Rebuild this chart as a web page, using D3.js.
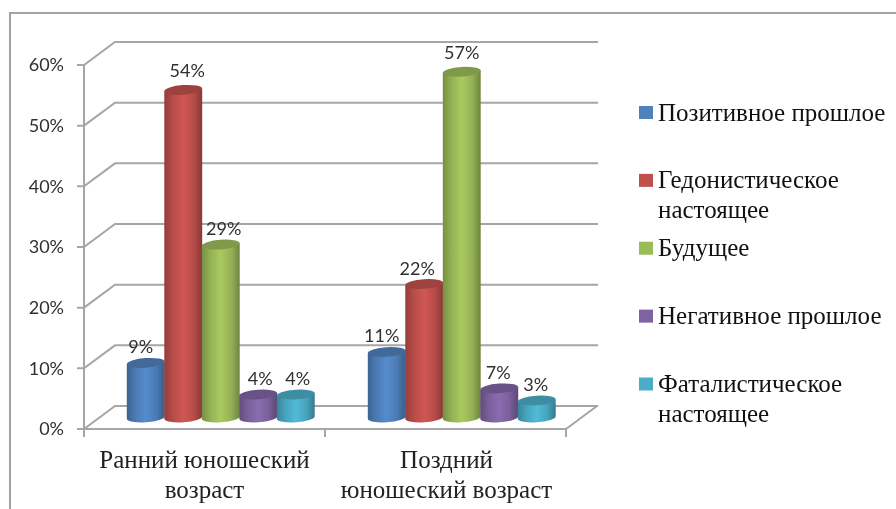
<!DOCTYPE html>
<html><head><meta charset="utf-8">
<script src="https://cdn.jsdelivr.net/npm/d3@7/dist/d3.min.js"></script>
<style>html,body{margin:0;padding:0;background:#fff;overflow:hidden}svg{display:block;filter:blur(0.4px)}</style>
</head><body><div id="chart"></div>
<script>
const categories = [["Ранний юношеский","возраст"],["Поздний","юношеский возраст"]];
const seriesNames = [["Позитивное прошлое"],["Гедонистическое","настоящее"],["Будущее"],["Негативное прошлое"],["Фаталистическое","настоящее"]];
const seriesColors = ["#4f81bd","#c0504d","#9bbb59","#8064a2","#4bacc6"];
const earlyValues = [9,54,28.5,3.8,3.8];
const lateValues = [10.8,22,57,4.8,2.8];
const earlyLabels = ["9%","54%","29%","4%","4%"];
const lateLabels = ["11%","22%","57%","7%","3%"];
const yTicks = [0,10,20,30,40,50,60];

const W=896,H=509;
const svg=d3.select("#chart").append("svg").attr("width",W).attr("height",H);
const defs=svg.append("defs");
seriesColors.forEach((c,i)=>{
  const g=defs.append("linearGradient").attr("id","g"+i);
  const base=d3.color(c);
  [[0,base.darker(.75)],[.22,base.darker(.15)],[.5,base.brighter(.22)],[.78,base.darker(.15)],[1,base.darker(.95)]]
   .forEach(([o,col])=>g.append("stop").attr("offset",o).attr("stop-color",col));
});
const depth={x:31,y:-23};
const x0=d3.scaleBand().domain(d3.range(categories.length)).range([84,566]);
const y=d3.scaleLinear().domain([0,60]).range([429,65]);
const inner=d3.scaleBand().domain(d3.range(seriesNames.length)).range([43,230.5]);
const grid="#a6a6a6";
// frame
svg.append("path").attr("d",`M10,${H} V13 H${W}`).attr("fill","none").attr("stroke","#a3a3a3").attr("stroke-width",2);
// walls
const axes=svg.append("g").attr("fill","none").attr("stroke",grid).attr("stroke-width",2);
yTicks.forEach(t=>{
  const yy=y(t);
  axes.append("path").attr("d",`M77,${yy} H84 L${84+depth.x},${yy+depth.y} H${566+depth.x+1}`);
});
axes.append("path").attr("d",`M84,${y(60)} V${y(0)}`);
axes.append("path").attr("d",`M84,${y(0)} H566 L${566+depth.x},${y(0)+depth.y}`);
[84,325,566].forEach(px=>axes.append("path").attr("d",`M${px},${y(0)} V${y(0)+8}`));
// y labels
svg.append("g").selectAll("text").data(yTicks).join("text")
 .attr("x",64).attr("y",d=>y(d)).attr("dy","0.36em").attr("text-anchor","end")
 .attr("font-family","Lato").attr("font-size",18).attr("fill","#303030").text(d=>d+"%");
// bars
const baseOffset=11.5, tilt=-4, ry=4.8;
const data=[earlyValues,lateValues];
const labels=[earlyLabels,lateLabels];
const labelShift=[[[-5,0],[4,-3],[3,0],[2,0],[2,0]],[[-5,0],[-7,0],[0,-3],[-1,0],[-1,0]]];
const barsG=svg.append("g");
data.forEach((vals,gi)=>{
  vals.forEach((v,si)=>{
    const bw=inner.bandwidth(), rx=bw/2+0.2;
    const cx=x0(gi)+inner(si)+bw/2;
    const h=y(0)-y(v);
    const by=y(0)-baseOffset, ty=by-h;
    const d=rx*Math.sin(-tilt*Math.PI/180);
    const g=barsG.append("g");
    g.append("path").attr("fill",`url(#g${si})`)
     .attr("d",`M${cx-rx},${ty+d} L${cx-rx},${by+d} A${rx},${ry} ${tilt} 0 0 ${cx+rx},${by-d} L${cx+rx},${ty-d} Z`);
    g.append("ellipse").attr("cx",cx).attr("cy",ty).attr("rx",rx).attr("ry",ry)
     .attr("transform",`rotate(${tilt} ${cx} ${ty})`).attr("fill",d3.color(seriesColors[si]).darker(.55));
    const s=labelShift[gi][si];
    svg.append("text").attr("x",cx+s[0]).attr("y",ty-16+s[1]).attr("dy","0.36em").attr("text-anchor","middle")
     .attr("font-family","Lato").attr("font-size",18).attr("fill","#303030").text(labels[gi][si]);
  });
});
// category labels
const catG=svg.append("g").attr("font-family","Liberation Serif").attr("font-size",25).attr("fill","#222").attr("text-anchor","middle");
categories.forEach((lines,i)=>lines.forEach((l,j)=>{
  catG.append("text").attr("x",x0(i)+x0.bandwidth()/2 + (i?1:0)).attr("y",468+j*30).text(l);
}));
// legend
const legendY=d3.scalePoint().domain(d3.range(seriesNames.length)).range([112.5,384]);
const lg=svg.append("g").attr("font-family","Liberation Serif").attr("font-size",25).attr("fill","#111");
seriesNames.forEach((lines,i)=>{
  const yy=legendY(i);
  lg.append("rect").attr("x",639).attr("y",yy-6.5).attr("width",14).attr("height",13).attr("fill",seriesColors[i]);
  lines.forEach((l,j)=>lg.append("text").attr("x",658).attr("y",yy+8+j*29.5).text(l));
});
</script></body></html>
